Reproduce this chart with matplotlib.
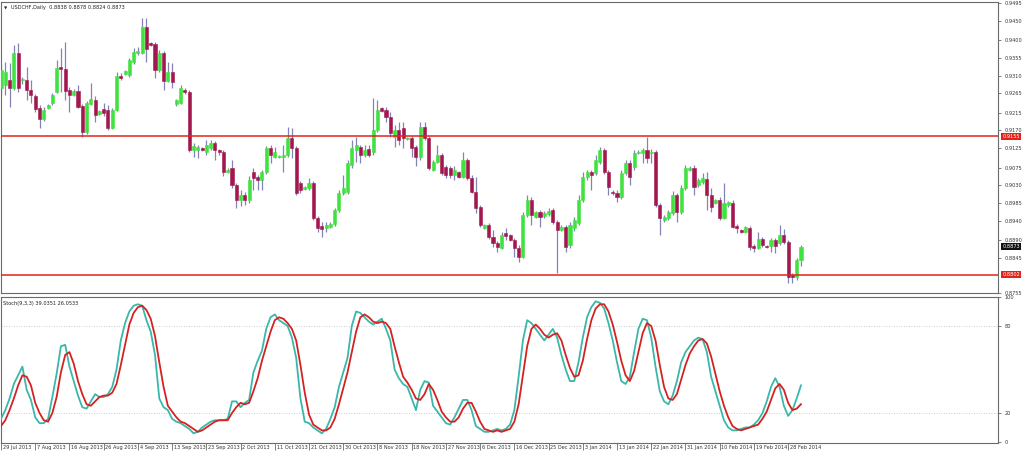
import matplotlib
matplotlib.use('Agg')
import matplotlib.pyplot as plt
from matplotlib.patches import Rectangle
import matplotlib.transforms as mtrans

symbol_title = "USDCHF,Daily  0.8838 0.8878 0.8824 0.8873"
stoch_title = "Stoch(9,3,3) 39.0351 26.0533"

date_labels = ['29 Jul 2013', '7 Aug 2013', '16 Aug 2013', '26 Aug 2013', '4 Sep 2013',
               '13 Sep 2013', '23 Sep 2013', '2 Oct 2013', '11 Oct 2013', '21 Oct 2013',
               '30 Oct 2013', '8 Nov 2013', '18 Nov 2013', '27 Nov 2013', '6 Dec 2013',
               '16 Dec 2013', '25 Dec 2013', '3 Jan 2014', '13 Jan 2014', '22 Jan 2014',
               '31 Jan 2014', '10 Feb 2014', '19 Feb 2014', '28 Feb 2014']
date_label_bars = [0, 8, 16, 24, 32, 40, 48, 56, 64, 72, 80, 88, 96, 104, 112, 120,
                   128, 136, 144, 152, 160, 168, 176, 184]

price_ticks = [0.9495, 0.9450, 0.9400, 0.9355, 0.9310, 0.9265, 0.9215, 0.9170, 0.9125,
               0.9075, 0.9030, 0.8985, 0.8940, 0.8890, 0.8845, 0.8755]
resistance = 0.9155
support = 0.8802
last_price = 0.8873
stoch_ticks = [100, 80, 20, 0]

opens = [
    0.9279, 0.9286, 0.9299, 0.9279, 0.9368, 0.9299, 0.9299, 0.9274, 0.9258, 0.9227,
    0.9199, 0.9227, 0.9240, 0.9268, 0.9332, 0.9327, 0.9274, 0.9261, 0.9271, 0.9233,
    0.9166, 0.9238, 0.9248, 0.9212, 0.9225, 0.9222, 0.9177, 0.9222, 0.9309, 0.9314,
    0.9312, 0.9345, 0.9368, 0.9368, 0.9434, 0.9393, 0.9391, 0.9325, 0.9368, 0.9296,
    0.9319, 0.9238, 0.9240, 0.9274, 0.9268, 0.9121, 0.9121, 0.9126, 0.9115, 0.9126,
    0.9138, 0.9121, 0.9115, 0.9064, 0.9075, 0.9031, 0.8993, 0.9006, 0.8993, 0.9064,
    0.9052, 0.9044, 0.9064, 0.9126, 0.9103, 0.9103, 0.9103, 0.9108, 0.9151, 0.9126,
    0.9036, 0.9021, 0.9024, 0.9036, 0.8947, 0.8927, 0.8922, 0.8924, 0.8932, 0.8968,
    0.9011, 0.9013, 0.9082, 0.9121, 0.9128, 0.9108, 0.9123, 0.9115, 0.9172, 0.9227,
    0.9222, 0.9205, 0.9154, 0.9172, 0.9177, 0.9149, 0.9151, 0.9128, 0.9103, 0.9179,
    0.9151, 0.9070, 0.9090, 0.9108, 0.9077, 0.9075, 0.9057, 0.9064, 0.9052, 0.9095,
    0.9049, 0.9013, 0.8975, 0.8922, 0.8929, 0.8899, 0.8883, 0.8871, 0.8909, 0.8904,
    0.8891, 0.8871, 0.8848, 0.8955, 0.8993, 0.8950, 0.8962, 0.8952, 0.8957, 0.8968,
    0.8937, 0.8917, 0.8924, 0.8878, 0.8922, 0.8934, 0.8993, 0.9052, 0.9064, 0.9062,
    0.9090, 0.9121, 0.9064, 0.9013, 0.9011, 0.9001, 0.9062, 0.9087, 0.9077, 0.9113,
    0.9113, 0.9121, 0.9113, 0.9115, 0.8980, 0.8942, 0.8947, 0.8960, 0.9006, 0.8962,
    0.9024, 0.9070, 0.9075, 0.9031, 0.9039, 0.9047, 0.9006, 0.8985, 0.8993, 0.8947,
    0.8980, 0.8985, 0.8927, 0.8917, 0.8911, 0.8922, 0.8876, 0.8871, 0.8894, 0.8876,
    0.8876, 0.8891, 0.8883, 0.8904, 0.8886, 0.8802, 0.8797, 0.8838]

highs = [
    0.9337, 0.9345, 0.9342, 0.9388, 0.9393, 0.9307, 0.9332, 0.9299, 0.9263, 0.9235,
    0.9230, 0.9238, 0.9266, 0.9350, 0.9381, 0.9396, 0.9281, 0.9276, 0.9286, 0.9238,
    0.9245, 0.9291, 0.9258, 0.9222, 0.9240, 0.9235, 0.9227, 0.9319, 0.9317, 0.9325,
    0.9355, 0.9381, 0.9383, 0.9457, 0.9457, 0.9396, 0.9396, 0.9376, 0.9373, 0.9345,
    0.9342, 0.9251, 0.9286, 0.9279, 0.9274, 0.9138, 0.9133, 0.9128, 0.9146, 0.9146,
    0.9143, 0.9123, 0.9121, 0.9075, 0.9095, 0.9036, 0.9018, 0.9013, 0.9054, 0.9075,
    0.9057, 0.9070, 0.9131, 0.9133, 0.9128, 0.9108, 0.9133, 0.9179, 0.9177, 0.9131,
    0.9041, 0.9029, 0.9049, 0.9041, 0.8952, 0.8937, 0.8937, 0.8937, 0.8973, 0.9019,
    0.9057, 0.9095, 0.9146, 0.9154, 0.9133, 0.9133, 0.9133, 0.9253, 0.9248, 0.9230,
    0.9230, 0.9217, 0.9184, 0.9192, 0.9192, 0.9154, 0.9156, 0.9133, 0.9192, 0.9192,
    0.9156, 0.9095, 0.9133, 0.9113, 0.9082, 0.9080, 0.9080, 0.9067, 0.9115, 0.9100,
    0.9057, 0.9052, 0.8980, 0.8932, 0.8934, 0.8917, 0.8888, 0.8911, 0.8922, 0.8906,
    0.8896, 0.8878, 0.8962, 0.9006, 0.9001, 0.8965, 0.8968, 0.8965, 0.8973, 0.8973,
    0.8942, 0.8929, 0.8929, 0.8937, 0.8950, 0.9006, 0.9064, 0.9070, 0.9070, 0.9108,
    0.9128, 0.9126, 0.9070, 0.9019, 0.9019, 0.9070, 0.9095, 0.9095, 0.9121, 0.9121,
    0.9126, 0.9154, 0.9123, 0.9121, 0.8985, 0.8955, 0.8968, 0.9016, 0.9011, 0.9031,
    0.9082, 0.9080, 0.9082, 0.9049, 0.9062, 0.9064, 0.9024, 0.8996, 0.9001, 0.9036,
    0.8990, 0.8993, 0.8932, 0.8919, 0.8927, 0.8927, 0.8881, 0.8911, 0.8899, 0.8878,
    0.8896, 0.8896, 0.8929, 0.8919, 0.8891, 0.8805, 0.8845, 0.8878]

lows = [
    0.9261, 0.9261, 0.9230, 0.9274, 0.9268, 0.9289, 0.9248, 0.9240, 0.9217, 0.9177,
    0.9194, 0.9225, 0.9235, 0.9266, 0.9268, 0.9248, 0.9217, 0.9258, 0.9227, 0.9154,
    0.9161, 0.9235, 0.9192, 0.9210, 0.9207, 0.9172, 0.9174, 0.9220, 0.9299, 0.9312,
    0.9307, 0.9340, 0.9363, 0.9365, 0.9345, 0.9386, 0.9304, 0.9319, 0.9274, 0.9294,
    0.9279, 0.9233, 0.9238, 0.9263, 0.9115, 0.9103, 0.9100, 0.9118, 0.9108, 0.9121,
    0.9095, 0.9108, 0.9054, 0.9062, 0.9024, 0.8973, 0.8978, 0.8980, 0.8985, 0.9019,
    0.9019, 0.9019, 0.9059, 0.9087, 0.9100, 0.9100, 0.9064, 0.9103, 0.9100, 0.9006,
    0.9011, 0.9019, 0.9019, 0.8942, 0.8911, 0.8899, 0.8911, 0.8922, 0.8927, 0.8962,
    0.9006, 0.9008, 0.9075, 0.9090, 0.9087, 0.9103, 0.9103, 0.9108, 0.9166, 0.9217,
    0.9192, 0.9154, 0.9128, 0.9133, 0.9126, 0.9146, 0.9103, 0.9080, 0.9095, 0.9146,
    0.9070, 0.9067, 0.9087, 0.9057, 0.9049, 0.9049, 0.9044, 0.9049, 0.9049, 0.9044,
    0.9011, 0.8960, 0.8924, 0.8919, 0.8894, 0.8873, 0.8860, 0.8868, 0.8891, 0.8888,
    0.8848, 0.8835, 0.8845, 0.8950, 0.8929, 0.8947, 0.8924, 0.8947, 0.8952, 0.8932,
    0.8807, 0.8914, 0.8860, 0.8871, 0.8914, 0.8929, 0.8988, 0.9044, 0.9019, 0.9057,
    0.9085, 0.9059, 0.9006, 0.9006, 0.8988, 0.8996, 0.9057, 0.9031, 0.9070, 0.9110,
    0.9087, 0.9087, 0.9087, 0.8975, 0.8904, 0.8937, 0.8942, 0.8955, 0.8937, 0.8957,
    0.9019, 0.9067, 0.9006, 0.9026, 0.9034, 0.8968, 0.8962, 0.8983, 0.8942, 0.8945,
    0.8975, 0.8922, 0.8909, 0.8909, 0.8909, 0.8866, 0.8860, 0.8868, 0.8873, 0.8871,
    0.8860, 0.8858, 0.8878, 0.8881, 0.8781, 0.8781, 0.8789, 0.8824]

closes = [
    0.9325, 0.9319, 0.9279, 0.9368, 0.9279, 0.9302, 0.9274, 0.9261, 0.9225, 0.9199,
    0.9222, 0.9235, 0.9261, 0.9330, 0.9327, 0.9271, 0.9261, 0.9271, 0.9230, 0.9166,
    0.9240, 0.9251, 0.9210, 0.9220, 0.9215, 0.9177, 0.9222, 0.9309, 0.9304, 0.9322,
    0.9350, 0.9370, 0.9373, 0.9434, 0.9378, 0.9388, 0.9325, 0.9368, 0.9296, 0.9319,
    0.9294, 0.9248, 0.9279, 0.9268, 0.9121, 0.9131, 0.9128, 0.9121, 0.9133, 0.9138,
    0.9121, 0.9115, 0.9064, 0.9070, 0.9031, 0.8993, 0.9006, 0.8993, 0.9044, 0.9049,
    0.9044, 0.9064, 0.9126, 0.9108, 0.9115, 0.9105, 0.9108, 0.9151, 0.9126, 0.9011,
    0.9019, 0.9026, 0.9036, 0.8947, 0.8922, 0.8919, 0.8929, 0.8932, 0.8968, 0.9011,
    0.9024, 0.9087, 0.9126, 0.9133, 0.9108, 0.9121, 0.9108, 0.9172, 0.9222, 0.9220,
    0.9205, 0.9164, 0.9172, 0.9146, 0.9151, 0.9151, 0.9126, 0.9103, 0.9179, 0.9151,
    0.9075, 0.9090, 0.9108, 0.9062, 0.9057, 0.9057, 0.9070, 0.9052, 0.9095, 0.9049,
    0.9013, 0.8973, 0.8929, 0.8929, 0.8899, 0.8883, 0.8873, 0.8904, 0.8901, 0.8891,
    0.8871, 0.8848, 0.8955, 0.8993, 0.8955, 0.8962, 0.8950, 0.8960, 0.8965, 0.8937,
    0.8917, 0.8924, 0.8873, 0.8929, 0.8942, 0.8993, 0.9052, 0.9064, 0.9057, 0.9095,
    0.9121, 0.9064, 0.9026, 0.9011, 0.9001, 0.9062, 0.9087, 0.9052, 0.9113, 0.9115,
    0.9121, 0.9100, 0.9115, 0.8980, 0.8947, 0.8950, 0.8962, 0.9006, 0.8962, 0.9024,
    0.9075, 0.9075, 0.9026, 0.9044, 0.9049, 0.9006, 0.8975, 0.8993, 0.8947, 0.8985,
    0.8988, 0.8924, 0.8922, 0.8911, 0.8924, 0.8873, 0.8871, 0.8894, 0.8878, 0.8873,
    0.8891, 0.8876, 0.8904, 0.8886, 0.8797, 0.8797, 0.8840, 0.8873]

stoch_k = [
    16, 22, 30, 40, 46, 52, 36, 29, 17, 13,
    13, 16, 31, 47, 66, 67, 52, 42, 32, 24,
    23, 28, 33, 31, 31, 33, 38, 50, 70, 82,
    90, 94, 95, 94, 84, 76, 60, 30, 24, 22,
    16, 14, 13, 11, 9, 6, 7, 10, 12, 14,
    15, 15, 15, 16, 28, 28, 24, 27, 29, 48,
    56, 63, 78, 86, 88, 84, 82, 80, 72, 58,
    30, 14, 13, 10, 8, 6, 9, 16, 24, 38,
    48, 58, 80, 90, 89, 86, 83, 81, 83, 85,
    78, 70, 50, 44, 40, 38, 30, 22, 36, 42,
    41, 25, 21, 17, 13, 12, 17, 23, 29, 29,
    22, 11, 9, 7, 7, 8, 9, 8, 9, 12,
    22, 45, 70, 84, 82, 78, 74, 70, 74, 78,
    72, 60, 50, 42, 42, 55, 72, 86, 93, 97,
    96, 92, 82, 70, 55, 42, 40, 45, 62, 78,
    85, 84, 72, 52, 35, 28, 26, 32, 42, 55,
    62, 66, 70, 72, 71, 62, 45, 35, 25, 15,
    10, 8, 8, 9, 10, 10, 12, 15, 20, 28,
    38, 44, 38, 25, 18, 22, 30, 39.0351]

stoch_d = [
    11, 15, 22, 30, 39, 46, 45, 39, 27, 20,
    15, 14, 20, 31, 48, 60, 62, 54, 42, 33,
    26, 25, 28, 31, 32, 32, 34, 40, 53, 67,
    81, 89, 93, 94, 91, 85, 73, 55, 38, 25,
    21, 17, 14, 13, 11, 9, 7, 8, 10, 12,
    14, 15, 15, 15, 20, 24, 27, 26, 27, 35,
    44, 56, 66, 76, 84, 86, 85, 82, 78, 70,
    53, 34, 19, 12, 10, 8, 8, 10, 16, 26,
    37, 48, 62, 76, 86, 88, 86, 83, 82, 83,
    82, 78, 66, 55, 45, 41, 36, 30, 29, 33,
    40, 36, 29, 21, 17, 14, 14, 17, 23, 27,
    27, 21, 14, 9, 8, 7, 8, 7, 8, 9,
    14, 26, 46, 66, 78, 81, 78, 74, 72, 74,
    75, 70, 60, 51, 45, 46, 56, 71, 84, 92,
    95, 95, 90, 81, 69, 56, 46, 42, 49, 62,
    75, 82, 80, 70, 53, 38, 30, 29, 33, 43,
    53, 61, 66, 70, 71, 68, 59, 47, 35, 25,
    17, 11, 9, 8, 9, 10, 11, 12, 16, 21,
    29, 37, 40, 36, 27, 22, 23, 26.0533]

# ---------------- styling ----------------
BULL = '#3fe23f'
BEAR = '#a3174f'
WICK = '#8484b4'
LINE_RED = '#e2231a'
K_COL = '#3ab7a9'
D_COL = '#d42222'
FRAME = '#6b6b6b'
FS = 3.6

W, H = 1024, 453
fig = plt.figure(figsize=(W / 100, H / 100), dpi=100)
fig.patch.set_facecolor('white')

def fx(px):
    return px / W

def fy(py):
    return 1 - py / H

x_left, x_right = 0.5, 998
ax = fig.add_axes([fx(x_left), fy(293), fx(x_right - x_left), fy(2) - fy(293)])
ax2 = fig.add_axes([fx(x_left), fy(443), fx(x_right - x_left), fy(297) - fy(443)])

n = len(closes)
bar_px = 4.28
xmax = (x_right - 0.5) / bar_px
for a in (ax, ax2):
    a.set_xlim(-0.12, xmax)
    a.set_facecolor('white')
    for s in a.spines.values():
        s.set_color(FRAME)
        s.set_linewidth(0.8)

ax.set_ylim(0.87555, 0.94976)
ax2.set_ylim(-0.7, 99.3)

# candles
for i in range(n):
    o, h, l, c = opens[i], highs[i], lows[i], closes[i]
    col = BULL if c >= o else BEAR
    ax.vlines(i, l, h, color=WICK, linewidth=0.9, zorder=2)
    bottom = min(o, c)
    height = max(abs(c - o), 0.00008)
    ax.add_patch(Rectangle((i - 0.36, bottom), 0.72, height, facecolor=col,
                           edgecolor=col, linewidth=0.4, zorder=3))

# horizontal levels
ax.axhline(resistance, color=LINE_RED, linewidth=1.1, zorder=4)
ax.axhline(support, color=LINE_RED, linewidth=1.1, zorder=4)

# right price axis
ax.yaxis.tick_right()
ax.set_yticks(price_ticks)
ax.set_yticklabels([f'{p:.4f}' for p in price_ticks])
ax.tick_params(axis='y', which='both', labelsize=FS, length=2.5, width=0.6,
               color=FRAME, labelcolor='#333333', pad=2)
ax.set_xticks([])

trans = mtrans.blended_transform_factory(ax.transAxes, ax.transData)
for lvl, bg in ((resistance, LINE_RED), (support, LINE_RED), (last_price, '#111111')):
    ax.text(1.0045, lvl, f'{lvl:.4f}', transform=trans, fontsize=FS, color='white',
            va='center', ha='left', zorder=6, clip_on=False,
            bbox=dict(boxstyle='square,pad=0.2', facecolor=bg, edgecolor='none'))

ax.text(0.003, 0.986, '\u25BC', transform=ax.transAxes, fontsize=3.0, color='#222222',
        va='top', ha='left')
ax.text(0.0105, 0.988, symbol_title, transform=ax.transAxes, fontsize=FS,
        color='#222222', va='top', ha='left')

# stochastic
xs = list(range(n))
for lvl in (80, 20):
    ax2.axhline(lvl, color='#bdbdbd', linewidth=0.6, linestyle=(0, (1, 2)), zorder=1)
ax2.plot(xs, stoch_k, color=K_COL, linewidth=1.3, zorder=3)
ax2.plot(xs, stoch_d, color=D_COL, linewidth=1.3, zorder=4)
ax2.yaxis.tick_right()
ax2.set_yticks(stoch_ticks)
ax2.set_yticklabels([str(t) for t in stoch_ticks])
ax2.tick_params(axis='y', labelsize=FS, length=2.5, width=0.6, color=FRAME,
                labelcolor='#333333', pad=2)
ax2.text(0.003, 0.975, stoch_title, transform=ax2.transAxes, fontsize=FS,
         color='#222222', va='top', ha='left')

ax2.set_xticks(date_label_bars)
ax2.set_xticklabels(date_labels)
for lab in ax2.get_xticklabels():
    lab.set_horizontalalignment('left')
ax2.tick_params(axis='x', labelsize=FS, length=5, width=0.6, color=FRAME,
                labelcolor='#333333', pad=-3.6, direction='out')
offset = mtrans.ScaledTranslation(1.8 / 100, 0, fig.dpi_scale_trans)
for lab in ax2.get_xticklabels():
    lab.set_transform(lab.get_transform() + offset)

fig.savefig('out.png', dpi=100, facecolor='white')
